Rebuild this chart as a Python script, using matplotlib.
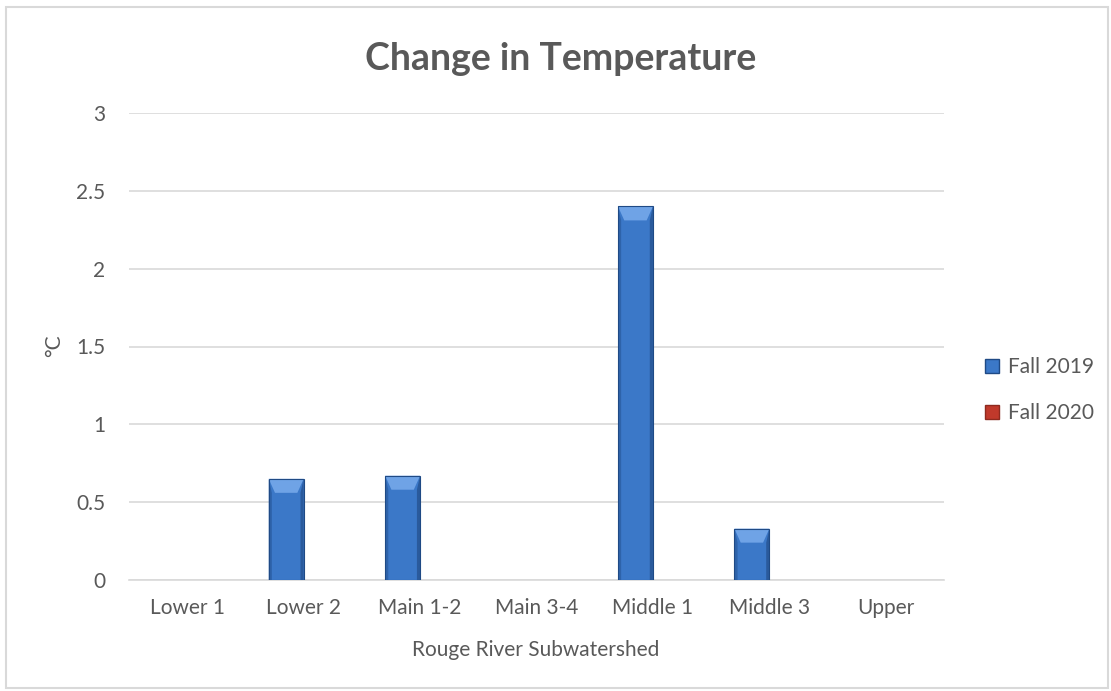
import matplotlib
matplotlib.use("Agg")
import matplotlib.pyplot as plt
import numpy as np
from matplotlib.patches import Rectangle, Polygon
from matplotlib.lines import Line2D

categories = ["Lower 1", "Lower 2", "Main 1-2", "Main 3-4", "Middle 1", "Middle 3", "Upper"]
fall_2019 = [0, 0.65, 0.67, 0, 2.40, 0.33, 0]
fall_2020 = [0, 0, 0, 0, 0, 0, 0]
series_names = ["Fall 2019", "Fall 2020"]
y_ticks = [0, 0.5, 1, 1.5, 2, 2.5, 3]
y_tick_labels = ["0", "0.5", "1", "1.5", "2", "2.5", "3"]

plt.rcParams['font.family'] = ['Lato', 'DejaVu Sans']
txt = "#595959"
fs = 15

fig = plt.figure(figsize=(11.11, 6.91), dpi=100)
W, H = 1111, 691
ax = fig.add_axes([129 / W, 1 - 580 / H, (944 - 129) / W, (580 - 113) / H])

x = np.arange(len(categories))
bw = 0.30
blue = "#3B78C8"
blue_edge = "#1F4A85"
red = "#C0392B"

bars = ax.bar(x - bw / 2, fall_2019, width=bw, color=blue, linewidth=0, zorder=3)
ax.bar(x + bw / 2, fall_2020, width=bw, color=red, linewidth=0, zorder=3)

# bevel effect on the blue bars (derived from each bar's geometry)
for b in bars:
    h = b.get_height()
    if h <= 0:
        continue
    x0 = b.get_x()
    w = b.get_width()
    bev_x = w * 0.18
    bev_y = 0.09
    top = h
    poly = Polygon([[x0, top], [x0 + w, top], [x0 + w - bev_x, top - bev_y],
                    [x0 + bev_x, top - bev_y]], closed=True,
                   facecolor="#6FA3E6", edgecolor="none", zorder=4)
    ax.add_patch(poly)
    left = Polygon([[x0, top], [x0 + bev_x * 0.5, top - bev_y], [x0 + bev_x * 0.5, 0], [x0, 0]],
                   closed=True, facecolor="#2E63AA", edgecolor="none", zorder=4)
    right = Polygon([[x0 + w, top], [x0 + w - bev_x * 0.5, top - bev_y], [x0 + w - bev_x * 0.5, 0], [x0 + w, 0]],
                    closed=True, facecolor="#2A5A9C", edgecolor="none", zorder=4)
    ax.add_patch(left)
    ax.add_patch(right)
    ax.add_patch(Rectangle((x0, 0), w, h, facecolor="none", edgecolor=blue_edge,
                           linewidth=0.8, zorder=5))

ax.set_xlim(-0.5, len(categories) - 0.5)
ax.set_ylim(0, 3)
ax.set_yticks(y_ticks)
ax.set_yticklabels(y_tick_labels)
ax.set_xticks(x)
ax.set_xticklabels(categories)
ax.yaxis.grid(True, color="#D9D9D9", linewidth=1.2, zorder=0)
ax.set_axisbelow(True)
for s in ["top", "right", "left"]:
    ax.spines[s].set_visible(False)
ax.spines["bottom"].set_color("#D9D9D9")
ax.spines["bottom"].set_linewidth(1.2)
ax.tick_params(axis="both", length=0, colors=txt, labelsize=fs)
ax.tick_params(axis="y", pad=17)
ax.tick_params(axis="x", pad=13)

ax.set_xlabel("Rouge River Subwatershed", color=txt, fontsize=fs)
ax.xaxis.set_label_coords(536 / W, 1 - 650 / H, transform=fig.transFigure)
ax.xaxis.label.set_va("center")
ax.yaxis.set_label_coords(54 / W, 1 - 345 / H, transform=fig.transFigure)
ax.set_ylabel("°C", color=txt, fontsize=fs, va="center")

fig.text(561 / W, 1 - 59 / H, "Change in Temperature", ha="center", va="center",
         fontsize=27, fontweight="bold", color=txt)

handles = [Line2D([], [], marker="s", linestyle="none", markersize=10,
                  markerfacecolor=blue, markeredgecolor=blue_edge),
           Line2D([], [], marker="s", linestyle="none", markersize=10,
                  markerfacecolor=red, markeredgecolor="#8E2A1F")]
leg = fig.legend(handles, series_names, loc="center left",
                 bbox_to_anchor=(984 / W, 1 - 390 / H), frameon=False,
                 fontsize=fs, handlelength=0.8, handletextpad=0.35,
                 labelspacing=1.25, borderaxespad=0, borderpad=0)
for t in leg.get_texts():
    t.set_color(txt)

fig.patches.append(Rectangle((6 / W, 1 - 688 / H), (1108 - 6) / W, (688 - 7) / H,
                             transform=fig.transFigure, fill=False,
                             edgecolor="#D9D9D9", linewidth=1.5))

fig.savefig("out.png", dpi=100, facecolor="white")
